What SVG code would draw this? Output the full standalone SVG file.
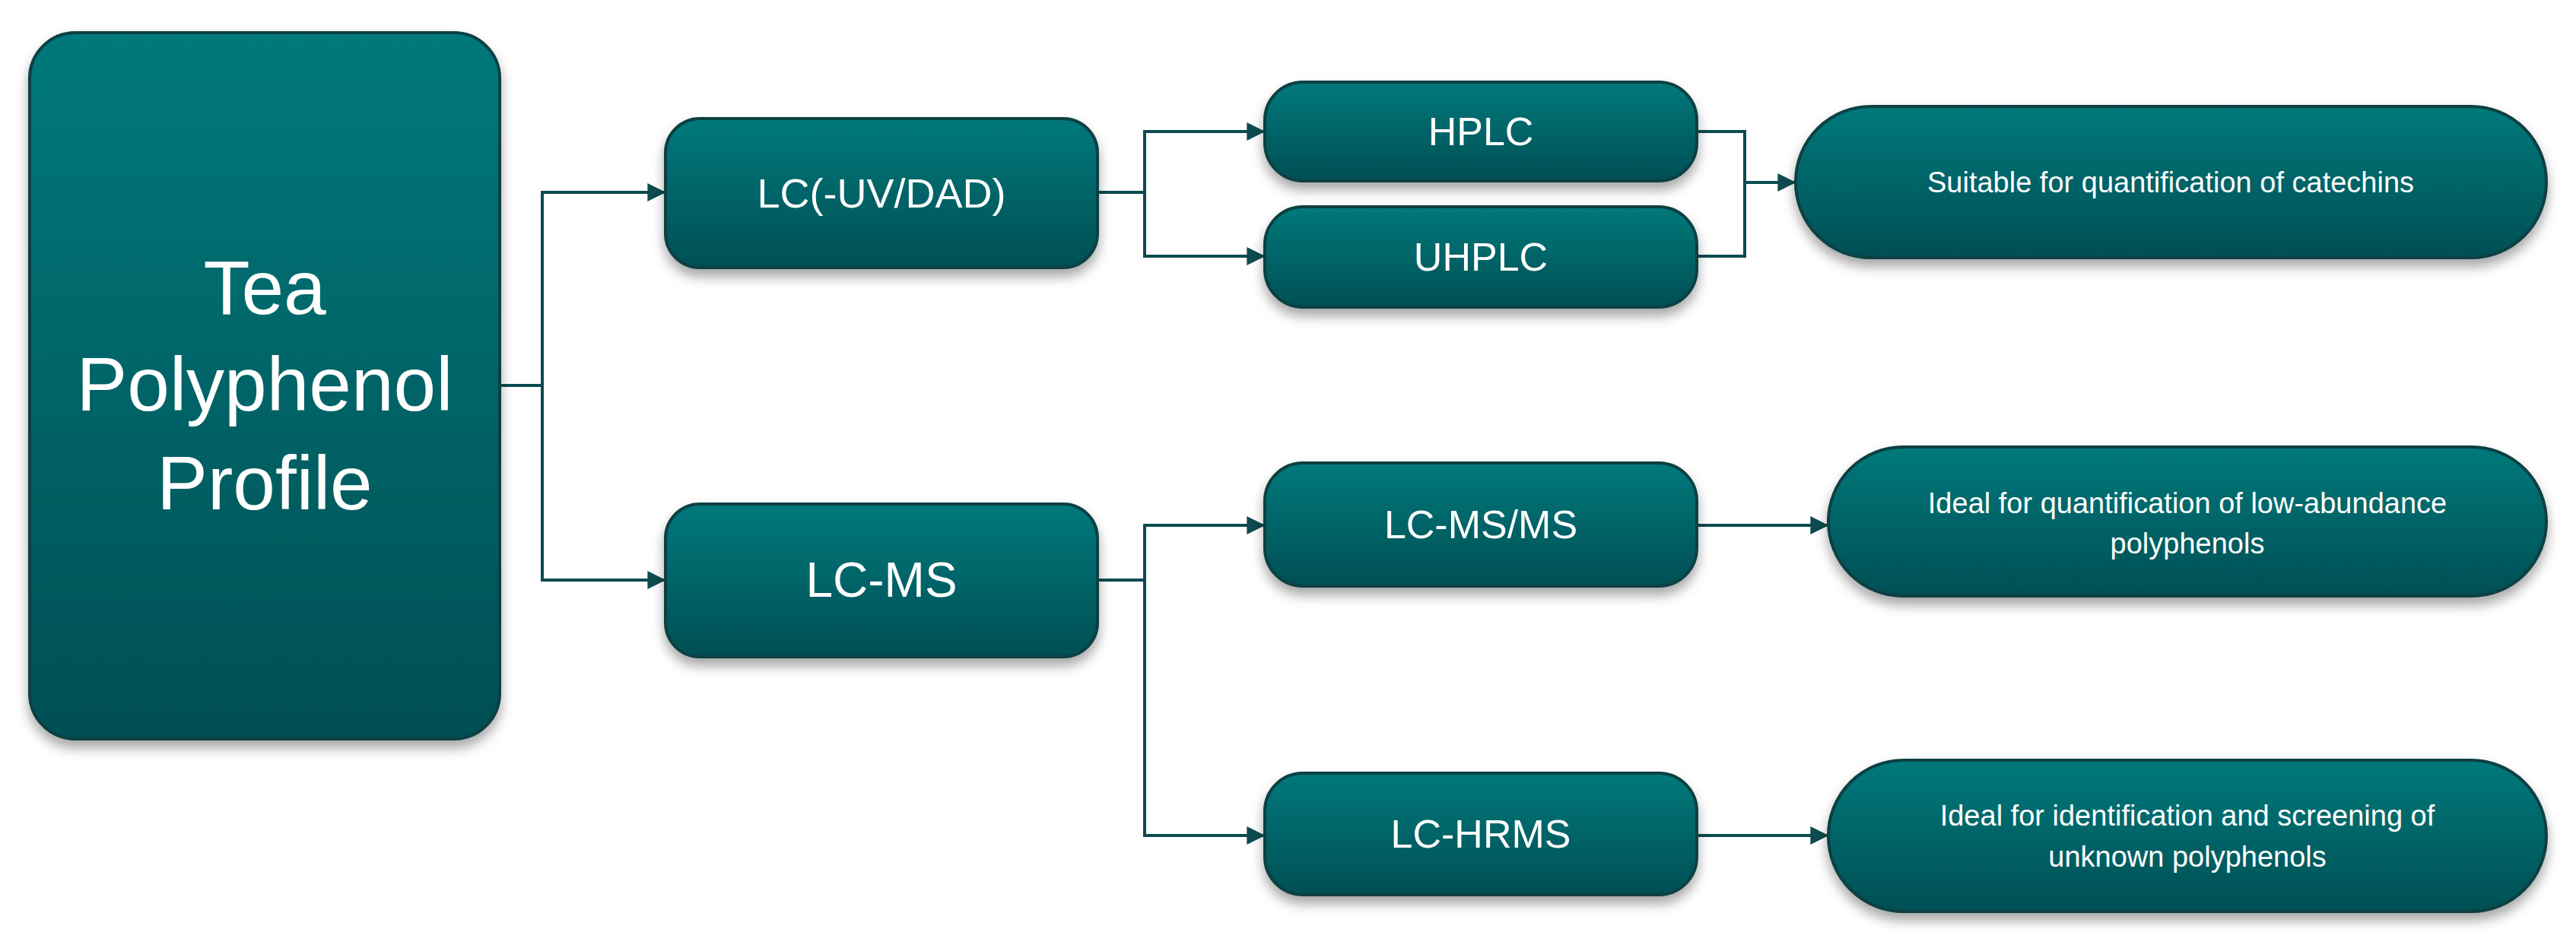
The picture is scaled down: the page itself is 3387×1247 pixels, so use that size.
<svg xmlns="http://www.w3.org/2000/svg" width="3387" height="1247" viewBox="0 0 3387 1247">
<defs>
<linearGradient id="g" x1="0" y1="0" x2="0" y2="1"><stop offset="0" stop-color="#00797b"/><stop offset="1" stop-color="#064f54"/></linearGradient>
<filter id="sh" x="-10%" y="-10%" width="120%" height="140%"><feDropShadow dx="0" dy="10" stdDeviation="8" flood-color="#000" flood-opacity="0.35"/></filter>
<marker id="ar" viewBox="0 0 10 10" refX="9" refY="5" markerWidth="6" markerHeight="6" markerUnits="strokeWidth" orient="auto"><path d="M0,0 L10,5 L0,10 z" fill="#0d4b4f"/></marker>
<style>
.n{fill:url(#g);stroke:#0a3f42;stroke-width:4;filter:url(#sh)}
.t{fill:#fff;font-family:"Liberation Sans Narrow","Liberation Sans",Arial,sans-serif;text-anchor:middle;dominant-baseline:central}
.c{fill:none;stroke:#0d4b4f;stroke-width:4}
</style>
</defs>
<rect width="3387" height="1247" fill="#fff"/>
<g id="connectors">
<path class="c" d="M657,507 H713 V253 H873" marker-end="url(#ar)"/>
<path class="c" d="M713,507 V763 H873" marker-end="url(#ar)"/>
<path class="c" d="M1443,253 H1505 V173 H1661" marker-end="url(#ar)"/>
<path class="c" d="M1505,253 V337 H1661" marker-end="url(#ar)"/>
<path class="c" d="M2231,173 H2294 V337 H2231"/>
<path class="c" d="M2294,240 H2359" marker-end="url(#ar)"/>
<path class="c" d="M1443,763 H1505 V691 H1661" marker-end="url(#ar)"/>
<path class="c" d="M1505,763 V1099 H1661" marker-end="url(#ar)"/>
<path class="c" d="M2231,691 H2402" marker-end="url(#ar)"/>
<path class="c" d="M2231,1099 H2402" marker-end="url(#ar)"/>
</g>
<g id="tea"><rect class="n" x="39" y="43" width="618" height="929" rx="60"/>
<text class="t" font-size="100" x="348" y="378">Tea</text><text class="t" font-size="100" x="348" y="505">Polyphenol</text><text class="t" font-size="100" x="348" y="635">Profile</text></g>
<g id="lcuv"><rect class="n" x="875" y="156" width="568" height="196" rx="45"/><text class="t" font-size="54" x="1159" y="254">LC(-UV/DAD)</text></g>
<g id="lcms"><rect class="n" x="875" y="663" width="568" height="201" rx="45"/><text class="t" font-size="64" x="1159" y="763">LC-MS</text></g>
<g id="hplc"><rect class="n" x="1663" y="108" width="568" height="130" rx="50"/><text class="t" font-size="52" x="1947" y="173">HPLC</text></g>
<g id="uhplc"><rect class="n" x="1663" y="272" width="568" height="132" rx="50"/><text class="t" font-size="52" x="1947" y="338">UHPLC</text></g>
<g id="suitable"><rect class="n" x="2361" y="140" width="987" height="199" rx="99"/><text class="t" font-size="38" x="2854" y="240">Suitable for quantification of catechins</text></g>
<g id="lcmsms"><rect class="n" x="1663" y="609" width="568" height="162" rx="50"/><text class="t" font-size="52" x="1947" y="690">LC-MS/MS</text></g>
<g id="ideal1"><rect class="n" x="2404" y="588" width="944" height="196" rx="98"/><text class="t" font-size="38" x="2876" y="662">Ideal for quantification of low-abundance</text><text class="t" font-size="38" x="2876" y="715">polyphenols</text></g>
<g id="lchrms"><rect class="n" x="1663" y="1017" width="568" height="160" rx="50"/><text class="t" font-size="52" x="1947" y="1097">LC-HRMS</text></g>
<g id="ideal2"><rect class="n" x="2404" y="1000" width="944" height="199" rx="99"/><text class="t" font-size="38" x="2876" y="1073">Ideal for identification and screening of</text><text class="t" font-size="38" x="2876" y="1127">unknown polyphenols</text></g>
</svg>
